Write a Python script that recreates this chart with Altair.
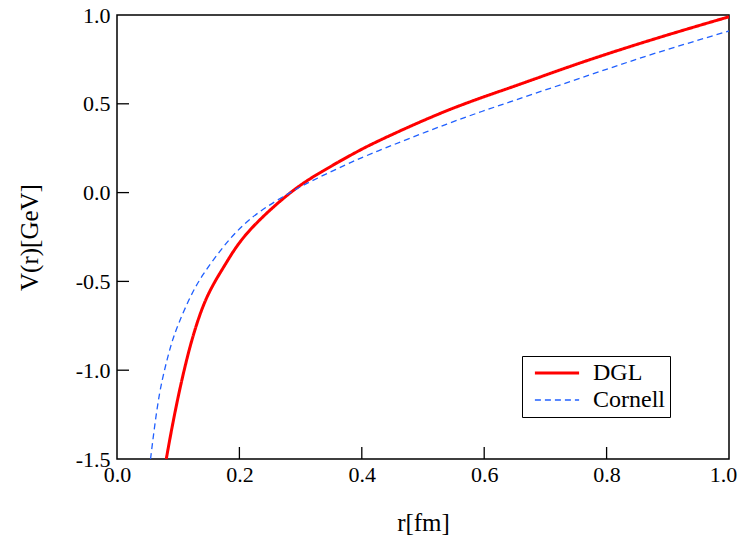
import altair as alt
import pandas as pd

# DGL potential
dgl_r = [0.0805, 0.0898, 0.1006, 0.1115, 0.125, 0.147, 0.1768, 0.2149, 0.280, 0.3347,
         0.389, 0.4434, 0.544, 0.65, 0.756, 0.88, 1.0]
dgl_v = [-1.5, -1.325, -1.14, -0.975, -0.80, -0.589, -0.405, -0.22, -0.01, 0.118,
         0.224, 0.317, 0.468, 0.60, 0.729, 0.867, 0.99]

# Cornell potential
cor_r = [0.0548, 0.0614, 0.0696, 0.0789, 0.0887, 0.1006, 0.1197, 0.1414, 0.1687, 0.197,
         0.2344, 0.280, 0.318, 0.3727, 0.427, 0.539, 0.65, 0.773, 0.88, 1.0]
cor_v = [-1.5, -1.319, -1.131, -0.982, -0.855, -0.739, -0.589, -0.458, -0.328, -0.215,
         -0.105, -0.006, 0.065, 0.155, 0.235, 0.386, 0.52, 0.663, 0.785, 0.91]

series_names = ["DGL", "Cornell"]
x_ticks = [0.0, 0.2, 0.4, 0.6, 0.8, 1.0]
y_ticks = [-1.5, -1.0, -0.5, 0.0, 0.5, 1.0]
x_inner_ticks = [0.2, 0.4, 0.6, 0.8]
y_inner_ticks = [-1.0, -0.5, 0.0, 0.5]

df = pd.concat([
    pd.DataFrame({"r": dgl_r, "V": dgl_v, "series": "DGL"}),
    pd.DataFrame({"r": cor_r, "V": cor_v, "series": "Cornell"}),
])

W, H = 612, 444
FONT = "Liberation Serif"
TICK = 12
LABEL_EXPR = "(datum.value < 0 ? '-' : '') + format(abs(datum.value), '.1f')"

xscale = alt.Scale(domain=[0, 1], nice=False, zero=False)
yscale = alt.Scale(domain=[-1.5, 1.0], nice=False, zero=False)

lines = alt.Chart(df).mark_line(interpolate="natural", clip=True).encode(
    x=alt.X("r:Q", scale=xscale,
            axis=alt.Axis(values=x_ticks, labelExpr=LABEL_EXPR, title="r[fm]", ticks=False,
                          domain=False, grid=False, labelPadding=5, labelFlush=False,
                          labelOffset={"condition": {"test": "datum.value >= 1", "value": -6}, "value": 0},
                          titleY=63, titleBaseline="middle")),
    y=alt.Y("V:Q", scale=yscale,
            axis=alt.Axis(values=y_ticks, labelExpr=LABEL_EXPR, title="V(r)[GeV]", ticks=False,
                          domain=False, grid=False, labelPadding=7, labelFlush=False,
                          titleX=-88, titleY=H / 2, titleBaseline="middle")),
    color=alt.Color("series:N", scale=alt.Scale(domain=series_names, range=["#ff0000", "#2060ff"]),
                    legend=alt.Legend(title=None, orient="none", legendX=405, legendY=341,
                                      strokeColor="black", fillColor="white", padding=5,
                                      symbolType="M-3.4,0H3.4", symbolSize=169,
                                      symbolOffset=18, labelOffset=24,
                                      labelFontSize=24, labelFont=FONT, labelColor="black",
                                      rowPadding=3)),
    strokeDash=alt.StrokeDash("series:N", scale=alt.Scale(domain=series_names, range=[[1, 0], [6, 4]]),
                              legend=alt.Legend(title=None)),
    strokeWidth=alt.StrokeWidth("series:N", scale=alt.Scale(domain=series_names, range=[3, 1.3]),
                                legend=alt.Legend(title=None)),
)

tick_df_x = pd.DataFrame({"t": x_inner_ticks})
tick_df_y = pd.DataFrame({"t": y_inner_ticks})

xticks = alt.Chart(tick_df_x).mark_rule(color="black", strokeWidth=1.3).encode(
    x=alt.X("t:Q", scale=xscale),
    y=alt.value(H), y2=alt.value(H - TICK),
)
yticks = alt.Chart(tick_df_y).mark_rule(color="black", strokeWidth=1.3).encode(
    y=alt.Y("t:Q", scale=yscale),
    x=alt.datum(0.0), x2=alt.datum(TICK / W),
)

chart = alt.layer(lines, xticks, yticks).properties(
    width=W, height=H,
    autosize=alt.AutoSizeParams(type="none"),
    padding={"left": 109, "top": 7, "right": 9, "bottom": 77},
).configure(
    background="white"
).configure_view(
    stroke="black", strokeWidth=1.5
).configure_axis(
    labelFont=FONT, titleFont=FONT, labelFontSize=22, titleFontSize=25,
    labelColor="black", titleColor="black", titleFontWeight="normal",
)

chart.save("out.html", embed_options={"renderer": "svg", "actions": False})
